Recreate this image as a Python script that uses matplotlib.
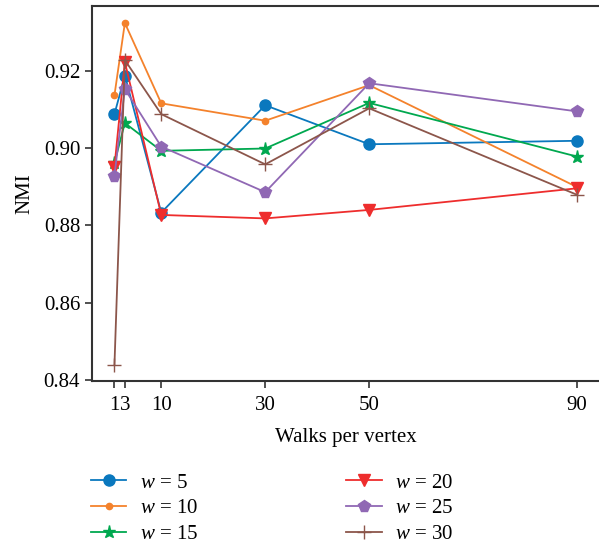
import matplotlib
matplotlib.use("Agg")
import matplotlib.pyplot as plt

walks = [1, 3, 10, 30, 50, 90]
tick_labels = ["1", "3", "10", "30", "50", "90"]
w5 = [0.9088, 0.9188, 0.8833, 0.9111, 0.9010, 0.9019]
w10 = [0.9137, 0.9324, 0.9116, 0.9071, 0.9163, 0.8899]
w15 = [0.8962, 0.9065, 0.8993, 0.8999, 0.9117, 0.8978]
w20 = [0.8952, 0.9223, 0.8827, 0.8818, 0.8840, 0.8896]
w25 = [0.8929, 0.9153, 0.9004, 0.8886, 0.9168, 0.9095]
w30 = [0.8439, 0.9228, 0.9088, 0.8958, 0.9103, 0.8879]
labels = ["$w$ = 5", "$w$ = 10", "$w$ = 15", "$w$ = 20", "$w$ = 25", "$w$ = 30"]

plt.rcParams['font.family'] = ['Liberation Serif', 'DejaVu Serif']
plt.rcParams['mathtext.fontset'] = 'custom'
plt.rcParams['mathtext.it'] = 'Liberation Serif:italic'
plt.rcParams['mathtext.rm'] = 'Liberation Serif'

fig = plt.figure(figsize=(5.99, 5.46), dpi=100)
ax = fig.add_axes([92/599, 1 - 381/546, 1 - 92/599, (381 - 6)/546])

styles = [
    (w5, "#0a78be", "o", 8, 1.0),
    (w10, "#f4822c", "o", 4.5, 1.0),
    (w15, "#00a84f", "*", 9.5, 1.0),
    (w20, "#ee2d2d", "v", 8.5, 1.0),
    (w25, "#9068b4", "p", 8.5, 1.0),
    (w30, "#8c564b", "+", 10, 1.0),
]
lines = []
for (vals, c, m, ms, mew), lab in zip(styles, labels):
    ln, = ax.plot(walks, vals, color=c, marker=m, markersize=ms, markeredgewidth=mew,
                  linewidth=1.3, label=lab)
    lines.append(ln)

ax.set_xlim(-3.32, 94.2)
ax.set_ylim(0.8397, 0.9368)
ax.set_xticks(walks)
ax.set_xticklabels(tick_labels)
ax.set_yticks([0.84, 0.86, 0.88, 0.90, 0.92])
ax.set_yticklabels(["0.84", "0.86", "0.88", "0.90", "0.92"])
ax.tick_params(axis='both', labelsize=15, direction='out', length=5, width=1.2, color='#333333')
ax.tick_params(axis='x', pad=6)
for s in ['left', 'bottom', 'top']:
    ax.spines[s].set_linewidth(1.5)
    ax.spines[s].set_color('#333333')
ax.spines['right'].set_visible(False)

ax.set_xlabel("Walks per vertex", fontsize=15, labelpad=9)
ax.set_ylabel("NMI", fontsize=15, labelpad=7)

leg = fig.legend(handles=lines, labels=labels, ncol=2, loc='upper left',
                 bbox_to_anchor=(91/599, 1 - 473/546), frameon=False,
                 borderpad=0, borderaxespad=0,
                 fontsize=15, handlelength=1.7, columnspacing=7.1,
                 labelspacing=0.3, handletextpad=0.65)

fig.savefig("out.png", dpi=100)
